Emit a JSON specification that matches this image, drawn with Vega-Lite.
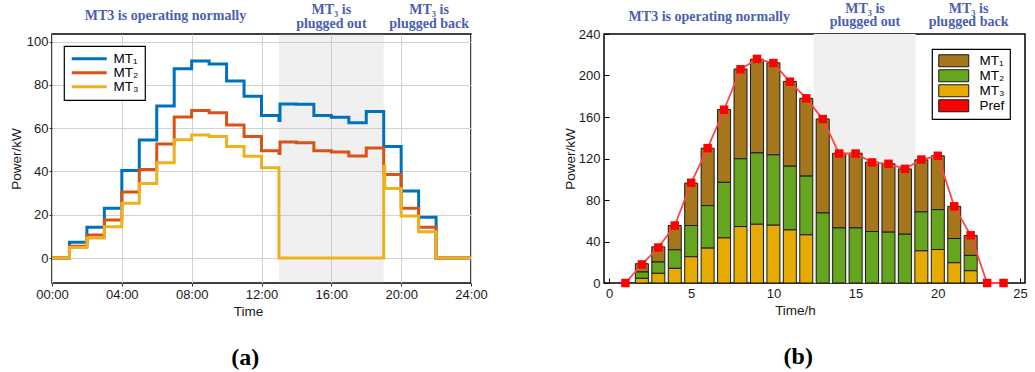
{
  "$schema": "https://vega.github.io/schema/vega-lite/v6.json",
  "background": "white",
  "padding": {"left": 8, "top": 0, "right": 0, "bottom": 0},
  "config": {
    "font": "Liberation Sans",
    "view": {"stroke": "#000", "strokeWidth": 1.5},
    "axis": {
      "labelFont": "Liberation Sans",
      "labelFontSize": 13,
      "labelColor": "#1a1a1a",
      "titleFont": "Liberation Sans",
      "titleFontSize": 13.5,
      "titleFontWeight": "normal",
      "titleColor": "#1a1a1a",
      "domain": false,
      "tickColor": "#333",
      "labelFlush": false,
      "labelOverlap": false
    },
    "legend": {
      "labelFont": "Liberation Sans",
      "labelFontSize": 13.5,
      "labelColor": "#000",
      "fillColor": "white",
      "strokeColor": "#000",
      "strokeWidth": 1.2
    }
  },
  "datasets": {
    "outage_a": [{"from": 13, "to": 19}],
    "outage_b": [{"from": 12.45, "to": 18.65}],
    "notes_a": [
      {"x": 6.5, "y": 112, "note": "MT3 is operating normally"},
      {"x": 16, "y": 114.5, "note": "MT₃ is\nplugged out"},
      {"x": 21.6, "y": 114.5, "note": "MT₃ is\nplugged back"}
    ],
    "notes_b": [
      {"x": 6.1, "y": 256.6, "note": "MT3 is operating normally"},
      {"x": 15.57, "y": 264.4, "note": "MT₃ is\nplugged out"},
      {"x": 21.87, "y": 264.4, "note": "MT₃ is\nplugged back"}
    ],
    "mt_lines": [
      {"unit": "MT1", "t": 0, "p": 0},
      {"unit": "MT1", "t": 1, "p": 7.3},
      {"unit": "MT1", "t": 2, "p": 14.3},
      {"unit": "MT1", "t": 3, "p": 23.0},
      {"unit": "MT1", "t": 4, "p": 40.5},
      {"unit": "MT1", "t": 5, "p": 54.5},
      {"unit": "MT1", "t": 6, "p": 70.2},
      {"unit": "MT1", "t": 7, "p": 87.4},
      {"unit": "MT1", "t": 8, "p": 91.0},
      {"unit": "MT1", "t": 9, "p": 89.6},
      {"unit": "MT1", "t": 10, "p": 81.8},
      {"unit": "MT1", "t": 11, "p": 74.8},
      {"unit": "MT1", "t": 12, "p": 65.9},
      {"unit": "MT1", "t": 13, "p": 63.5},
      {"unit": "MT1", "t": 13.06, "p": 71.2},
      {"unit": "MT1", "t": 14, "p": 71.0},
      {"unit": "MT1", "t": 15, "p": 65.9},
      {"unit": "MT1", "t": 16, "p": 65.1},
      {"unit": "MT1", "t": 17, "p": 62.5},
      {"unit": "MT1", "t": 18, "p": 67.7},
      {"unit": "MT1", "t": 19, "p": 51.6},
      {"unit": "MT1", "t": 20, "p": 31.0},
      {"unit": "MT1", "t": 21, "p": 18.9},
      {"unit": "MT1", "t": 22, "p": 0},
      {"unit": "MT1", "t": 24, "p": 0},
      {"unit": "MT2", "t": 0, "p": 0},
      {"unit": "MT2", "t": 1, "p": 5.5},
      {"unit": "MT2", "t": 2, "p": 10.7},
      {"unit": "MT2", "t": 3, "p": 17.6},
      {"unit": "MT2", "t": 4, "p": 30.5},
      {"unit": "MT2", "t": 5, "p": 40.9},
      {"unit": "MT2", "t": 6, "p": 52.7},
      {"unit": "MT2", "t": 7, "p": 65.2},
      {"unit": "MT2", "t": 8, "p": 68.2},
      {"unit": "MT2", "t": 9, "p": 67.1},
      {"unit": "MT2", "t": 10, "p": 61.5},
      {"unit": "MT2", "t": 11, "p": 56.2},
      {"unit": "MT2", "t": 12, "p": 49.6},
      {"unit": "MT2", "t": 13, "p": 48.3},
      {"unit": "MT2", "t": 13.06, "p": 53.6},
      {"unit": "MT2", "t": 14, "p": 53.3},
      {"unit": "MT2", "t": 15, "p": 49.6},
      {"unit": "MT2", "t": 16, "p": 49.0},
      {"unit": "MT2", "t": 17, "p": 47.2},
      {"unit": "MT2", "t": 18, "p": 50.8},
      {"unit": "MT2", "t": 19, "p": 38.6},
      {"unit": "MT2", "t": 20, "p": 23.0},
      {"unit": "MT2", "t": 21, "p": 14.2},
      {"unit": "MT2", "t": 22, "p": 0},
      {"unit": "MT2", "t": 24, "p": 0},
      {"unit": "MT3", "t": 0, "p": 0},
      {"unit": "MT3", "t": 1, "p": 4.9},
      {"unit": "MT3", "t": 2, "p": 9.3},
      {"unit": "MT3", "t": 3, "p": 14.5},
      {"unit": "MT3", "t": 4, "p": 25.3},
      {"unit": "MT3", "t": 5, "p": 34.4},
      {"unit": "MT3", "t": 6, "p": 44.0},
      {"unit": "MT3", "t": 7, "p": 54.7},
      {"unit": "MT3", "t": 8, "p": 56.9},
      {"unit": "MT3", "t": 9, "p": 56.2},
      {"unit": "MT3", "t": 10, "p": 51.6},
      {"unit": "MT3", "t": 11, "p": 47.0},
      {"unit": "MT3", "t": 12, "p": 41.7},
      {"unit": "MT3", "t": 13, "p": 0},
      {"unit": "MT3", "t": 19, "p": 42.4},
      {"unit": "MT3", "t": 19.06, "p": 32.2},
      {"unit": "MT3", "t": 20, "p": 19.5},
      {"unit": "MT3", "t": 21, "p": 12.2},
      {"unit": "MT3", "t": 22, "p": 0},
      {"unit": "MT3", "t": 24, "p": 0}
    ],
    "mt_bars": [
      {"h": 2, "unit": "MT1", "p": 8.0}, {"h": 2, "unit": "MT2", "p": 6.1}, {"h": 2, "unit": "MT3", "p": 4.5},
      {"h": 3, "unit": "MT1", "p": 14.7}, {"h": 3, "unit": "MT2", "p": 10.9}, {"h": 3, "unit": "MT3", "p": 9.3},
      {"h": 4, "unit": "MT1", "p": 23.4}, {"h": 4, "unit": "MT2", "p": 17.9}, {"h": 4, "unit": "MT3", "p": 14.1},
      {"h": 5, "unit": "MT1", "p": 40.9}, {"h": 5, "unit": "MT2", "p": 30.1}, {"h": 5, "unit": "MT3", "p": 25.3},
      {"h": 6, "unit": "MT1", "p": 55.3}, {"h": 6, "unit": "MT2", "p": 41.0}, {"h": 6, "unit": "MT3", "p": 33.6},
      {"h": 7, "unit": "MT1", "p": 70.2}, {"h": 7, "unit": "MT2", "p": 53.5}, {"h": 7, "unit": "MT3", "p": 43.5},
      {"h": 8, "unit": "MT1", "p": 86.6}, {"h": 8, "unit": "MT2", "p": 65.3}, {"h": 8, "unit": "MT3", "p": 54.4},
      {"h": 9, "unit": "MT1", "p": 90.3}, {"h": 9, "unit": "MT2", "p": 68.8}, {"h": 9, "unit": "MT3", "p": 56.6},
      {"h": 10, "unit": "MT1", "p": 88.8}, {"h": 10, "unit": "MT2", "p": 67.8}, {"h": 10, "unit": "MT3", "p": 55.7},
      {"h": 11, "unit": "MT1", "p": 81.7}, {"h": 11, "unit": "MT2", "p": 61.4}, {"h": 11, "unit": "MT3", "p": 51.2},
      {"h": 12, "unit": "MT1", "p": 75.0}, {"h": 12, "unit": "MT2", "p": 56.6}, {"h": 12, "unit": "MT3", "p": 46.4},
      {"h": 13, "unit": "MT1", "p": 90.6}, {"h": 13, "unit": "MT2", "p": 67.5},
      {"h": 14, "unit": "MT1", "p": 72.0}, {"h": 14, "unit": "MT2", "p": 53.1},
      {"h": 15, "unit": "MT1", "p": 72.0}, {"h": 15, "unit": "MT2", "p": 53.1},
      {"h": 16, "unit": "MT1", "p": 66.9}, {"h": 16, "unit": "MT2", "p": 49.6},
      {"h": 17, "unit": "MT1", "p": 65.9}, {"h": 17, "unit": "MT2", "p": 49.0},
      {"h": 18, "unit": "MT1", "p": 63.0}, {"h": 18, "unit": "MT2", "p": 47.0},
      {"h": 19, "unit": "MT1", "p": 50.2}, {"h": 19, "unit": "MT2", "p": 37.5}, {"h": 19, "unit": "MT3", "p": 31.0},
      {"h": 20, "unit": "MT1", "p": 51.9}, {"h": 20, "unit": "MT2", "p": 38.4}, {"h": 20, "unit": "MT3", "p": 32.3},
      {"h": 21, "unit": "MT1", "p": 31.0}, {"h": 21, "unit": "MT2", "p": 23.4}, {"h": 21, "unit": "MT3", "p": 19.5},
      {"h": 22, "unit": "MT1", "p": 19.2}, {"h": 22, "unit": "MT2", "p": 14.8}, {"h": 22, "unit": "MT3", "p": 11.8}
    ],
    "p_ref": [
      {"h": 1, "unit": "Pref", "p": 0},
      {"h": 2, "unit": "Pref", "p": 17.9},
      {"h": 3, "unit": "Pref", "p": 34.2},
      {"h": 4, "unit": "Pref", "p": 55.4},
      {"h": 5, "unit": "Pref", "p": 96.6},
      {"h": 6, "unit": "Pref", "p": 130.0},
      {"h": 7, "unit": "Pref", "p": 167.0},
      {"h": 8, "unit": "Pref", "p": 206.0},
      {"h": 9, "unit": "Pref", "p": 216.0},
      {"h": 10, "unit": "Pref", "p": 212.0},
      {"h": 11, "unit": "Pref", "p": 194.0},
      {"h": 12, "unit": "Pref", "p": 178.0},
      {"h": 13, "unit": "Pref", "p": 158.0},
      {"h": 14, "unit": "Pref", "p": 124.8},
      {"h": 15, "unit": "Pref", "p": 124.8},
      {"h": 16, "unit": "Pref", "p": 116.2},
      {"h": 17, "unit": "Pref", "p": 114.9},
      {"h": 18, "unit": "Pref", "p": 110.0},
      {"h": 19, "unit": "Pref", "p": 119.0},
      {"h": 20, "unit": "Pref", "p": 122.6},
      {"h": 21, "unit": "Pref", "p": 73.9},
      {"h": 22, "unit": "Pref", "p": 46.0},
      {"h": 23, "unit": "Pref", "p": 0},
      {"h": 24, "unit": "Pref", "p": 0}
    ]
  },
  "spacing": 73,
  "resolve": {
    "scale": {"color": "independent"},
    "legend": {"color": "independent"}
  },
  "hconcat": [
    {
      "width": 419,
      "height": 249,
      "title": {"text": "(a)", "orient": "bottom", "frame": "bounds", "anchor": "middle", "font": "Liberation Serif", "fontSize": 24, "fontWeight": "bold", "color": "#000", "offset": 28, "dx": -3},
      "layer": [
        {
          "data": {"name": "outage_a"},
          "mark": {"type": "rect", "fill": "#b4b4b4", "opacity": 0.2},
          "encoding": {
            "x": {
              "field": "from", "type": "quantitative",
              "scale": {"domain": [0, 24], "nice": false, "zero": false},
              "axis": {
                "values": [0, 4, 8, 12, 16, 20, 24],
                "labelExpr": "(datum.value < 10 ? '0' : '') + datum.value + ':00'",
                "grid": true, "gridColor": "#d2d2d2", "gridWidth": 1,
                "tickSize": 3, "labelPadding": 2,
                "title": "Time", "titlePadding": 3, "titleX": 196
              }
            },
            "x2": {"field": "to"}
          }
        },
        {
          "data": {"name": "mt_lines"},
          "mark": {"type": "line", "interpolate": "step-after", "strokeWidth": 3},
          "encoding": {
            "x": {"field": "t", "type": "quantitative"},
            "y": {
              "field": "p", "type": "quantitative",
              "scale": {"domain": [-11.5, 103.5], "nice": false, "zero": false},
              "axis": {
                "values": [0, 20, 40, 60, 80, 100],
                "grid": true, "gridColor": "#d2d2d2", "gridWidth": 1,
                "tickSize": 3, "labelPadding": 1,
                "title": "Power/kW", "titlePadding": 3
              }
            },
            "color": {
              "field": "unit", "type": "nominal",
              "scale": {"domain": ["MT1", "MT2", "MT3"], "range": ["#0072BD", "#D95319", "#EDB120"]},
              "legend": {
                "orient": "top-left", "offset": 12,
                "title": null, "padding": 6, "rowPadding": -1,
                "symbolType": "M-1,0H6", "symbolSize": 100, "symbolStrokeWidth": 3,
                "labelOffset": 30,
                "labelExpr": "datum.label === 'MT1' ? 'MT₁' : datum.label === 'MT2' ? 'MT₂' : 'MT₃'"
              }
            }
          }
        },
        {
          "data": {"name": "notes_a"},
          "mark": {"type": "text", "font": "Liberation Serif", "fontSize": 14, "fontWeight": "bold", "color": "#4b5fae", "baseline": "middle", "align": "center", "lineBreak": "\n", "lineHeight": 13.4},
          "encoding": {
            "x": {"field": "x", "type": "quantitative"},
            "y": {"field": "y", "type": "quantitative"},
            "text": {"field": "note", "type": "nominal"}
          }
        }
      ]
    },
    {
      "width": 421,
      "height": 249,
      "title": {"text": "(b)", "orient": "bottom", "frame": "bounds", "anchor": "middle", "font": "Liberation Serif", "fontSize": 24, "fontWeight": "bold", "color": "#000", "offset": 28, "dx": 3},
      "layer": [
        {
          "data": {"name": "outage_b"},
          "mark": {"type": "rect", "fill": "#f0f0f0"},
          "encoding": {
            "x": {
              "field": "from", "type": "quantitative",
              "scale": {"domain": [0, 25], "nice": false, "zero": false},
              "axis": {
                "values": [0, 5, 10, 15, 20, 25],
                "grid": false, "tickSize": -5, "tickColor": "#000", "labelPadding": 9,
                "title": "Time/h", "titlePadding": 3, "titleX": 191
              }
            },
            "x2": {"field": "to"}
          }
        },
        {
          "data": {"name": "mt_bars"},
          "mark": {"type": "bar", "size": 13, "stroke": "#1a1a1a", "strokeWidth": 1},
          "encoding": {
            "x": {"field": "h", "type": "quantitative"},
            "y": {
              "field": "p", "type": "quantitative", "stack": "zero",
              "scale": {"domain": [0, 240], "nice": false},
              "axis": {
                "values": [0, 40, 80, 120, 160, 200, 240],
                "grid": false, "tickSize": -5, "tickColor": "#000", "labelPadding": 9,
                "title": "Power/kW", "titlePadding": 1
              }
            },
            "order": {"field": "unit", "sort": "descending"},
            "color": {
              "field": "unit", "type": "nominal",
              "scale": {"domain": ["MT1", "MT2", "MT3", "Pref"], "range": ["#a6761d", "#66a61e", "#e6ab02", "#ff0000"]},
              "legend": {
                "orient": "top-right", "offset": 15,
                "title": null, "padding": 5, "rowPadding": -3,
                "symbolType": "M-1,-1.2H5V1.2H-1Z", "symbolSize": 100,
                "symbolStrokeColor": "#1a1a1a", "symbolStrokeWidth": 1,
                "labelOffset": 29,
                "labelExpr": "datum.label === 'MT1' ? 'MT₁' : datum.label === 'MT2' ? 'MT₂' : datum.label === 'MT3' ? 'MT₃' : 'Pref'"
              }
            }
          }
        },
        {
          "data": {"name": "p_ref"},
          "mark": {"type": "line", "color": "#ff4646", "strokeWidth": 1.8},
          "encoding": {
            "x": {"field": "h", "type": "quantitative"},
            "y": {"field": "p", "type": "quantitative"}
          }
        },
        {
          "data": {"name": "p_ref"},
          "mark": {"type": "point", "shape": "square", "filled": true, "size": 72, "opacity": 1},
          "encoding": {
            "x": {"field": "h", "type": "quantitative"},
            "y": {"field": "p", "type": "quantitative"},
            "color": {"field": "unit", "type": "nominal"}
          }
        },
        {
          "data": {"name": "notes_b"},
          "mark": {"type": "text", "font": "Liberation Serif", "fontSize": 14, "fontWeight": "bold", "color": "#4b5fae", "baseline": "middle", "align": "center", "lineBreak": "\n", "lineHeight": 13.4},
          "encoding": {
            "x": {"field": "x", "type": "quantitative"},
            "y": {"field": "y", "type": "quantitative"},
            "text": {"field": "note", "type": "nominal"}
          }
        }
      ]
    }
  ]
}
